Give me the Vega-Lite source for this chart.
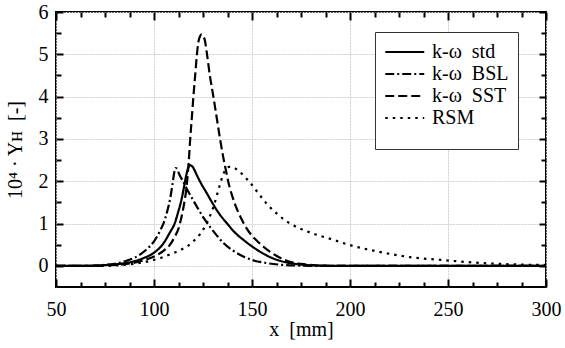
{
  "$schema": "https://vega.github.io/schema/vega-lite/v6.json",
  "width": 490,
  "height": 275,
  "autosize": {"type": "none"},
  "padding": {"left": 56, "top": 12, "right": 19, "bottom": 61},
  "background": "white",
  "config": {
    "font": "Liberation Serif, Times New Roman, serif",
    "view": {"stroke": "black", "strokeWidth": 2},
    "axis": {
      "labelFont": "Liberation Serif, Times New Roman, serif", "labelFontSize": 20, "labelColor": "black",
      "titleFont": "Liberation Serif, Times New Roman, serif", "titleFontSize": 20, "titleFontWeight": "normal", "titleColor": "black",
      "tickColor": "black", "tickWidth": 2, "domain": false, "labelFlush": false, "labelOverlap": false,
      "gridColor": "#cfcfcf", "gridWidth": 1, "gridDash": [2, 1]
    },
    "legend": {"labelFont": "Liberation Serif, Times New Roman, serif", "titleFont": "Liberation Serif, Times New Roman, serif"}
  },
  "data": {"values": [
    {"model":"k-ω\u00a0 std","x":50,"y":0},{"model":"k-ω\u00a0 std","x":65,"y":0},{"model":"k-ω\u00a0 std","x":72,"y":0.01},{"model":"k-ω\u00a0 std","x":80,"y":0.035},{"model":"k-ω\u00a0 std","x":86,"y":0.07},{"model":"k-ω\u00a0 std","x":90,"y":0.11},{"model":"k-ω\u00a0 std","x":95,"y":0.19},{"model":"k-ω\u00a0 std","x":100,"y":0.31},{"model":"k-ω\u00a0 std","x":104.8,"y":0.53},{"model":"k-ω\u00a0 std","x":108,"y":0.78},{"model":"k-ω\u00a0 std","x":110.7,"y":1.02},{"model":"k-ω\u00a0 std","x":112.5,"y":1.3},{"model":"k-ω\u00a0 std","x":113.8,"y":1.52},{"model":"k-ω\u00a0 std","x":115.3,"y":1.86},{"model":"k-ω\u00a0 std","x":116.5,"y":2.15},{"model":"k-ω\u00a0 std","x":117.4,"y":2.31},{"model":"k-ω\u00a0 std","x":118.3,"y":2.38},{"model":"k-ω\u00a0 std","x":119,"y":2.37},{"model":"k-ω\u00a0 std","x":120,"y":2.32},{"model":"k-ω\u00a0 std","x":121,"y":2.23},{"model":"k-ω\u00a0 std","x":122,"y":2.13},{"model":"k-ω\u00a0 std","x":124,"y":1.95},{"model":"k-ω\u00a0 std","x":126.9,"y":1.72},{"model":"k-ω\u00a0 std","x":130,"y":1.47},{"model":"k-ω\u00a0 std","x":133,"y":1.25},{"model":"k-ω\u00a0 std","x":137.5,"y":0.99},{"model":"k-ω\u00a0 std","x":141,"y":0.8},{"model":"k-ω\u00a0 std","x":146,"y":0.6},{"model":"k-ω\u00a0 std","x":150,"y":0.46},{"model":"k-ω\u00a0 std","x":155,"y":0.31},{"model":"k-ω\u00a0 std","x":160,"y":0.19},{"model":"k-ω\u00a0 std","x":165,"y":0.11},{"model":"k-ω\u00a0 std","x":170,"y":0.06},{"model":"k-ω\u00a0 std","x":176,"y":0.025},{"model":"k-ω\u00a0 std","x":185,"y":0.005},{"model":"k-ω\u00a0 std","x":195,"y":0},{"model":"k-ω\u00a0 std","x":300,"y":0},
    {"model":"k-ω\u00a0 BSL","x":50,"y":0},{"model":"k-ω\u00a0 BSL","x":65,"y":0},{"model":"k-ω\u00a0 BSL","x":74,"y":0.02},{"model":"k-ω\u00a0 BSL","x":80,"y":0.05},{"model":"k-ω\u00a0 BSL","x":86,"y":0.12},{"model":"k-ω\u00a0 BSL","x":90,"y":0.19},{"model":"k-ω\u00a0 BSL","x":93,"y":0.27},{"model":"k-ω\u00a0 BSL","x":96,"y":0.38},{"model":"k-ω\u00a0 BSL","x":100,"y":0.58},{"model":"k-ω\u00a0 BSL","x":103,"y":0.82},{"model":"k-ω\u00a0 BSL","x":105,"y":1.02},{"model":"k-ω\u00a0 BSL","x":106.8,"y":1.3},{"model":"k-ω\u00a0 BSL","x":108.3,"y":1.6},{"model":"k-ω\u00a0 BSL","x":109.5,"y":1.95},{"model":"k-ω\u00a0 BSL","x":110.3,"y":2.2},{"model":"k-ω\u00a0 BSL","x":110.9,"y":2.31},{"model":"k-ω\u00a0 BSL","x":111.6,"y":2.3},{"model":"k-ω\u00a0 BSL","x":112.8,"y":2.17},{"model":"k-ω\u00a0 BSL","x":115,"y":1.98},{"model":"k-ω\u00a0 BSL","x":117,"y":1.8},{"model":"k-ω\u00a0 BSL","x":119,"y":1.63},{"model":"k-ω\u00a0 BSL","x":121,"y":1.47},{"model":"k-ω\u00a0 BSL","x":123,"y":1.31},{"model":"k-ω\u00a0 BSL","x":125.5,"y":1.12},{"model":"k-ω\u00a0 BSL","x":128.6,"y":0.92},{"model":"k-ω\u00a0 BSL","x":132,"y":0.72},{"model":"k-ω\u00a0 BSL","x":135.4,"y":0.54},{"model":"k-ω\u00a0 BSL","x":140,"y":0.37},{"model":"k-ω\u00a0 BSL","x":145.6,"y":0.22},{"model":"k-ω\u00a0 BSL","x":150,"y":0.14},{"model":"k-ω\u00a0 BSL","x":157.5,"y":0.065},{"model":"k-ω\u00a0 BSL","x":165,"y":0.025},{"model":"k-ω\u00a0 BSL","x":175,"y":0.006},{"model":"k-ω\u00a0 BSL","x":185,"y":0},{"model":"k-ω\u00a0 BSL","x":300,"y":0},
    {"model":"k-ω\u00a0 SST","x":50,"y":0},{"model":"k-ω\u00a0 SST","x":70,"y":0},{"model":"k-ω\u00a0 SST","x":80,"y":0.02},{"model":"k-ω\u00a0 SST","x":86,"y":0.045},{"model":"k-ω\u00a0 SST","x":91.2,"y":0.085},{"model":"k-ω\u00a0 SST","x":96,"y":0.15},{"model":"k-ω\u00a0 SST","x":101.4,"y":0.25},{"model":"k-ω\u00a0 SST","x":105,"y":0.36},{"model":"k-ω\u00a0 SST","x":108.2,"y":0.5},{"model":"k-ω\u00a0 SST","x":110.5,"y":0.68},{"model":"k-ω\u00a0 SST","x":112.5,"y":0.88},{"model":"k-ω\u00a0 SST","x":114,"y":1.15},{"model":"k-ω\u00a0 SST","x":115.3,"y":1.45},{"model":"k-ω\u00a0 SST","x":116.3,"y":1.75},{"model":"k-ω\u00a0 SST","x":117,"y":2.05},{"model":"k-ω\u00a0 SST","x":117.7,"y":2.45},{"model":"k-ω\u00a0 SST","x":118.4,"y":2.95},{"model":"k-ω\u00a0 SST","x":119.3,"y":3.5},{"model":"k-ω\u00a0 SST","x":120.1,"y":4.0},{"model":"k-ω\u00a0 SST","x":121,"y":4.5},{"model":"k-ω\u00a0 SST","x":121.8,"y":4.95},{"model":"k-ω\u00a0 SST","x":122.6,"y":5.28},{"model":"k-ω\u00a0 SST","x":123.5,"y":5.43},{"model":"k-ω\u00a0 SST","x":124.3,"y":5.47},{"model":"k-ω\u00a0 SST","x":125.2,"y":5.43},{"model":"k-ω\u00a0 SST","x":126,"y":5.32},{"model":"k-ω\u00a0 SST","x":126.9,"y":5.05},{"model":"k-ω\u00a0 SST","x":128.5,"y":4.5},{"model":"k-ω\u00a0 SST","x":130.3,"y":4.0},{"model":"k-ω\u00a0 SST","x":132,"y":3.5},{"model":"k-ω\u00a0 SST","x":133.7,"y":3.0},{"model":"k-ω\u00a0 SST","x":135.2,"y":2.6},{"model":"k-ω\u00a0 SST","x":136.5,"y":2.3},{"model":"k-ω\u00a0 SST","x":137.9,"y":1.99},{"model":"k-ω\u00a0 SST","x":141,"y":1.5},{"model":"k-ω\u00a0 SST","x":144.5,"y":1.12},{"model":"k-ω\u00a0 SST","x":148.5,"y":0.8},{"model":"k-ω\u00a0 SST","x":153,"y":0.57},{"model":"k-ω\u00a0 SST","x":157.5,"y":0.39},{"model":"k-ω\u00a0 SST","x":162,"y":0.25},{"model":"k-ω\u00a0 SST","x":167.7,"y":0.12},{"model":"k-ω\u00a0 SST","x":175,"y":0.045},{"model":"k-ω\u00a0 SST","x":183,"y":0.012},{"model":"k-ω\u00a0 SST","x":192,"y":0},{"model":"k-ω\u00a0 SST","x":300,"y":0},
    {"model":"RSM","x":50,"y":0},{"model":"RSM","x":70,"y":0},{"model":"RSM","x":80,"y":0.01},{"model":"RSM","x":86,"y":0.03},{"model":"RSM","x":90,"y":0.05},{"model":"RSM","x":96.3,"y":0.1},{"model":"RSM","x":103,"y":0.18},{"model":"RSM","x":108,"y":0.27},{"model":"RSM","x":113.3,"y":0.37},{"model":"RSM","x":117.5,"y":0.48},{"model":"RSM","x":120.5,"y":0.6},{"model":"RSM","x":123.5,"y":0.75},{"model":"RSM","x":126,"y":0.93},{"model":"RSM","x":128,"y":1.12},{"model":"RSM","x":130.3,"y":1.39},{"model":"RSM","x":132,"y":1.65},{"model":"RSM","x":133.7,"y":1.93},{"model":"RSM","x":135.3,"y":2.16},{"model":"RSM","x":136.8,"y":2.29},{"model":"RSM","x":138.4,"y":2.34},{"model":"RSM","x":140,"y":2.33},{"model":"RSM","x":143,"y":2.25},{"model":"RSM","x":146,"y":2.12},{"model":"RSM","x":149,"y":1.97},{"model":"RSM","x":153,"y":1.73},{"model":"RSM","x":157.5,"y":1.47},{"model":"RSM","x":163,"y":1.22},{"model":"RSM","x":169.4,"y":1.0},{"model":"RSM","x":175,"y":0.87},{"model":"RSM","x":181.3,"y":0.76},{"model":"RSM","x":189.8,"y":0.64},{"model":"RSM","x":200,"y":0.49},{"model":"RSM","x":215,"y":0.33},{"model":"RSM","x":230,"y":0.21},{"model":"RSM","x":249,"y":0.13},{"model":"RSM","x":266,"y":0.07},{"model":"RSM","x":283,"y":0.035},{"model":"RSM","x":300,"y":0.02}
  ]},
  "layer": [
    {
      "mark": {"type": "line", "color": "black", "strokeWidth": 2.2, "interpolate": "monotone", "strokeCap": "butt"},
      "encoding": {
        "x": {"field": "x", "type": "quantitative", "scale": {"domain": [50, 300], "nice": false, "zero": false},
              "axis": {"orient": "bottom", "values": [50, 100, 150, 200, 250, 300], "tickSize": -8, "labelPadding": 20, "grid": true, "title": "x\u00a0 [mm]", "titlePadding": 0}},
        "y": {"field": "y", "type": "quantitative", "scale": {"domain": [-0.5, 6], "nice": false, "zero": false},
              "axis": {"orient": "left", "values": [0, 1, 2, 3, 4, 5, 6], "tickSize": -7, "labelPadding": 15, "grid": true, "title": "10⁴ · Yʜ\u00a0 [-]", "titlePadding": 13}},
        "strokeDash": {"field": "model", "type": "nominal",
          "scale": {"domain": ["k-ω\u00a0 std", "k-ω\u00a0 BSL", "k-ω\u00a0 SST", "RSM"], "range": [[1, 0], [9, 3, 2, 3], [9, 4], [2.5, 5]]},
          "legend": {"title": "\u00a0", "titleOrient": "bottom", "titleFontSize": 10, "titlePadding": 2, "orient": "none", "legendX": 319, "legendY": 20, "symbolType": "M-1,0H3", "symbolSize": 380, "symbolStrokeWidth": 2, "symbolStrokeColor": "black",
            "labelFont": "Liberation Serif, Times New Roman, serif", "labelFontSize": 20, "labelColor": "black", "strokeColor": "#333333", "fillColor": "white", "padding": 9, "rowPadding": 1, "labelOffset": 26}}
      }
    },
    {
      "mark": {"type": "point", "opacity": 0},
      "encoding": {
        "x": {"field": "x", "type": "quantitative", "axis": {"orient": "bottom", "values": [62.5, 75, 87.5, 112.5, 125, 137.5, 162.5, 175, 187.5, 212.5, 225, 237.5, 262.5, 275, 287.5], "tickSize": -5, "labels": false, "grid": false, "title": null}},
        "y": {"field": "y", "type": "quantitative", "axis": {"orient": "left", "values": [0.5, 1.5, 2.5, 3.5, 4.5, 5.5], "tickSize": -5, "labels": false, "grid": false, "title": null}}
      }
    },
    {
      "mark": {"type": "point", "opacity": 0},
      "encoding": {
        "x": {"field": "x", "type": "quantitative", "axis": {"orient": "top", "values": [50, 100, 150, 200, 250, 300], "tickSize": -8, "labels": false, "grid": false, "title": null}},
        "y": {"field": "y", "type": "quantitative", "axis": {"orient": "right", "values": [0, 1, 2, 3, 4, 5, 6], "tickSize": -7, "labels": false, "grid": false, "title": null}}
      }
    },
    {
      "mark": {"type": "point", "opacity": 0},
      "encoding": {
        "x": {"field": "x", "type": "quantitative", "axis": {"orient": "top", "values": [62.5, 75, 87.5, 112.5, 125, 137.5, 162.5, 175, 187.5, 212.5, 225, 237.5, 262.5, 275, 287.5], "tickSize": -5, "labels": false, "grid": false, "title": null}},
        "y": {"field": "y", "type": "quantitative", "axis": {"orient": "right", "values": [0.5, 1.5, 2.5, 3.5, 4.5, 5.5], "tickSize": -5, "labels": false, "grid": false, "title": null}}
      }
    }
  ],
  "resolve": {"axis": {"x": "independent", "y": "independent"}}
}
